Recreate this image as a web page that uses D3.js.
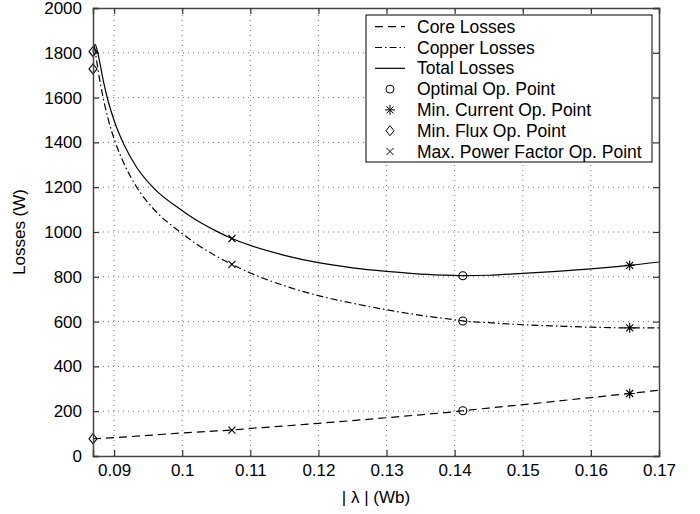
<!DOCTYPE html>
<html>
<head>
<meta charset="utf-8">
<script src="https://cdn.jsdelivr.net/npm/d3@7"></script>
<style>
  body { margin: 0; background: #fff; }
  text { font-family: "Liberation Sans", Arial, sans-serif; fill: #000; }
</style>
</head>
<body>
<svg id="chart"></svg>
<script>
// values
let coreLambda = [0.0869, 0.09, 0.095, 0.1, 0.105, 0.1073, 0.11, 0.115, 0.12, 0.125, 0.13, 0.135, 0.14, 0.1412, 0.145, 0.15, 0.155, 0.16, 0.1657, 0.17]
let coreLoss   = [77, 82, 92, 103, 112, 116, 123, 134, 146, 158, 171, 184, 198, 202, 214, 229, 245, 261, 279, 294]

let copperLambda = [0.0871, 0.0873, 0.0878, 0.0884, 0.0891, 0.0901, 0.0915, 0.0933, 0.096, 0.0997, 0.1028, 0.105, 0.1073, 0.11, 0.115, 0.12, 0.125, 0.13, 0.135, 0.14, 0.1412, 0.145, 0.15, 0.155, 0.16, 0.1657, 0.17]
let copperLoss   = [1830, 1792, 1694, 1598, 1507, 1407, 1302, 1201, 1096, 1000, 932, 892, 855, 817, 760, 716, 682, 653, 628, 608, 603, 595, 586, 580, 575, 572, 572]

let totalLambda = [0.0869, 0.0872, 0.0876, 0.0878, 0.0884, 0.0891, 0.0901, 0.0915, 0.0933, 0.096, 0.0997, 0.1028, 0.105, 0.1073, 0.11, 0.115, 0.12, 0.125, 0.13, 0.135, 0.14, 0.1412, 0.145, 0.15, 0.155, 0.16, 0.1657, 0.17]
let totalLoss   = [1805, 1838, 1800, 1772, 1677, 1587, 1489, 1387, 1289, 1190, 1102, 1040, 1004, 971, 940, 896, 863, 840, 824, 812, 806, 805, 807, 815, 824, 835, 851, 866]

// operating points: [core, copper, total]
let optLambda = 0.1412,  optLoss = [202, 603, 805]
let minCurLambda = 0.1657, minCurLoss = [279, 572, 851]
let minFluxLambda = 0.0869, minFluxLoss = [77, 1728, 1805]
let maxPfLambda = 0.1073, maxPfLoss = [116, 855, 971]

let xTicks = [0.09, 0.1, 0.11, 0.12, 0.13, 0.14, 0.15, 0.16, 0.17]
let xTickLabels = ["0.09", "0.1", "0.11", "0.12", "0.13", "0.14", "0.15", "0.16", "0.17"]
let yTicks = [0, 200, 400, 600, 800, 1000, 1200, 1400, 1600, 1800, 2000]

let legendLabels = ["Core Losses", "Copper Losses", "Total Losses", "Optimal Op. Point",
                    "Min. Current Op. Point", "Min. Flux Op. Point", "Max. Power Factor Op. Point"]

let width = 700
let height = 514
let margin = {top: 8, right: 41, bottom: 58, left: 93}
let fontSize = 17

let svg = d3.select("#chart").attr("width", width).attr("height", height)

let xScale = d3.scaleLinear().domain([0.0869, 0.17]).range([margin.left, width - margin.right])
let yScale = d3.scaleLinear().domain([0, 2000]).range([height - margin.bottom, margin.top])

let x0 = margin.left, x1 = width - margin.right
let y0 = height - margin.bottom, y1 = margin.top

// grid
let grid = svg.append("g")
grid.selectAll(".vg")
    .data(xTicks.slice(0, -1))
    .enter()
    .append("line")
    .attr("x1", d => xScale(d)).attr("x2", d => xScale(d))
    .attr("y1", y0).attr("y2", y1)
grid.selectAll(".hg")
    .data(yTicks.slice(1, -1))
    .enter()
    .append("line")
    .attr("x1", x0).attr("x2", x1)
    .attr("y1", d => yScale(d)).attr("y2", d => yScale(d))
grid.selectAll("line")
    .attr("stroke", "#777")
    .attr("stroke-width", 1)
    .attr("stroke-dasharray", "1,4")

// curves
let line = d3.line()
    .x(d => xScale(d[0]))
    .y(d => yScale(d[1]))
    .curve(d3.curveMonotoneX)

let curves = [
    {lam: coreLambda, val: coreLoss, dash: "8,5"},
    {lam: copperLambda, val: copperLoss, dash: "7,3,1.5,3"},
    {lam: totalLambda, val: totalLoss, dash: null}
]

curves.forEach(c => {
    svg.append("path")
        .datum(c.lam.map((l, i) => [l, c.val[i]]))
        .attr("d", line)
        .attr("fill", "none")
        .attr("stroke", "#000")
        .attr("stroke-width", 1.2)
        .attr("stroke-dasharray", c.dash)
})

// marker shapes
let markerPath = (type) => {
    if (type === "circle") {
        return "M4,0A4,4 0 1,1 -4,0A4,4 0 1,1 4,0Z"
    } else if (type === "diamond") {
        return "M0,-5L4,0L0,5L-4,0Z"
    } else if (type === "star") {
        return "M0,-5L0,5M-5,0L5,0M-3.5,-3.5L3.5,3.5M-3.5,3.5L3.5,-3.5"
    } else {
        return "M-3.5,-3.5L3.5,3.5M-3.5,3.5L3.5,-3.5"
    }
}

let pointSets = [
    {type: "circle", lam: optLambda, val: optLoss},
    {type: "star", lam: minCurLambda, val: minCurLoss},
    {type: "diamond", lam: minFluxLambda, val: minFluxLoss},
    {type: "cross", lam: maxPfLambda, val: maxPfLoss}
]

pointSets.forEach(p => {
    svg.selectAll(null)
        .data(p.val)
        .enter()
        .append("path")
        .attr("d", markerPath(p.type))
        .attr("transform", d => "translate(" + xScale(p.lam) + "," + yScale(d) + ")")
        .attr("fill", "none")
        .attr("stroke", "#000")
        .attr("stroke-width", 1.1)
})

// frame and inward ticks
let xAxisB = d3.axisBottom(xScale).tickValues(xTicks).tickSize(-6).tickPadding(8)
    .tickFormat((d, i) => xTickLabels[i])
let xAxisT = d3.axisTop(xScale).tickValues(xTicks).tickSize(-6).tickFormat("")
let yAxisL = d3.axisLeft(yScale).tickValues(yTicks).tickSize(-6).tickPadding(11)
    .tickFormat(d3.format("d"))
let yAxisR = d3.axisRight(yScale).tickValues(yTicks).tickSize(-6).tickFormat("")

let gB = svg.append("g").attr("transform", "translate(0," + y0 + ")").call(xAxisB)
let gT = svg.append("g").attr("transform", "translate(0," + y1 + ")").call(xAxisT)
let gL = svg.append("g").attr("transform", "translate(" + x0 + ",0)").call(yAxisL)
let gR = svg.append("g").attr("transform", "translate(" + x1 + ",0)").call(yAxisR)

;[gB, gT, gL, gR].forEach(g => {
    g.select(".domain").attr("stroke", "#444").attr("stroke-width", 1.5)
    g.selectAll(".tick line").attr("stroke", "#333").attr("stroke-width", 1.2)
    g.selectAll("text").style("font-size", fontSize + "px").style("font-family", "'Liberation Sans', Arial, sans-serif")
})

// axis titles
svg.append("text")
    .text("| λ | (Wb)")
    .attr("x", (x0 + x1) / 2)
    .attr("y", 503)
    .attr("text-anchor", "middle")
    .style("font-size", fontSize + "px")

svg.append("text")
    .text("Losses (W)")
    .attr("transform", "translate(25," + ((y0 + y1) / 2) + ") rotate(-90)")
    .attr("text-anchor", "middle")
    .style("font-size", fontSize + "px")

// legend
let legend = svg.append("g").attr("id", "legend")
let lx = 366, ly = 15, lw = 286, lh = 147, rowH = 20.8

legend.append("rect")
    .attr("x", lx).attr("y", ly)
    .attr("width", lw).attr("height", lh)
    .attr("fill", "#fff")
    .attr("stroke", "#000")
    .attr("stroke-width", 1)

legendLabels.forEach((label, i) => {
    let cy = ly + 11.7 + i * rowH
    if (i < 3) {
        legend.append("line")
            .attr("x1", lx + 9).attr("x2", lx + 39)
            .attr("y1", cy).attr("y2", cy)
            .attr("stroke", "#000")
            .attr("stroke-width", 1.2)
            .attr("stroke-dasharray", curves[i].dash)
    } else {
        legend.append("path")
            .attr("d", markerPath(pointSets[i - 3].type))
            .attr("transform", "translate(" + (lx + 24) + "," + cy + ")")
            .attr("fill", "none")
            .attr("stroke", "#000")
            .attr("stroke-width", 1)
    }
    legend.append("text")
        .text(label)
        .attr("x", lx + 51)
        .attr("y", cy)
        .attr("dy", "0.35em")
        .style("font-size", "17.5px")
})
</script>
</body>
</html>
